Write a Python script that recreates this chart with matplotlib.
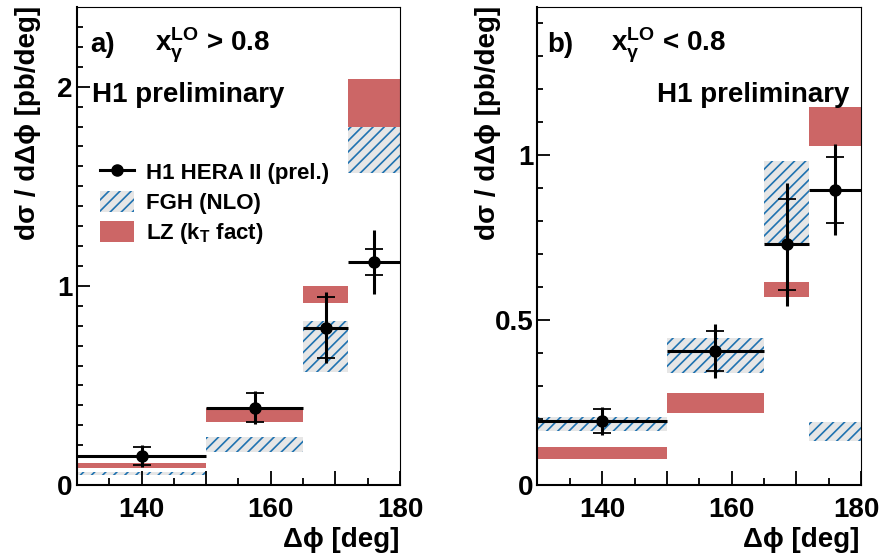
import matplotlib
matplotlib.use('Agg')
import matplotlib.pyplot as plt
import matplotlib.transforms as mtransforms
from matplotlib.patches import Patch
from matplotlib.lines import Line2D

plt.rcParams['font.family'] = ['Liberation Sans', 'DejaVu Sans']
plt.rcParams['font.weight'] = 'bold'
plt.rcParams['mathtext.fontset'] = 'custom'
plt.rcParams['mathtext.rm'] = 'Liberation Sans:bold'
plt.rcParams['mathtext.it'] = 'Liberation Sans:bold'
plt.rcParams['mathtext.bf'] = 'Liberation Sans:bold'
plt.rcParams['hatch.linewidth'] = 1.2

# Bins in delta phi
bordes = [130, 150, 165, 172, 180]

# Panel a) x_gamma > 0.8
a_datos = [0.146, 0.389, 0.79, 1.119]
a_stat = [0.047, 0.073, 0.153, 0.065]
a_total = [0.057, 0.082, 0.178, 0.16]
a_fgh_bajo = [0.050, 0.167, 0.569, 1.566]
a_fgh_alto = [0.067, 0.243, 0.824, 1.800]
a_lz_bajo = [0.087, 0.318, 0.916, 1.800]
a_lz_alto = [0.112, 0.389, 1.000, 2.040]

# Panel b) x_gamma < 0.8
b_datos = [0.194, 0.406, 0.729, 0.894]
b_stat = [0.035, 0.060, 0.138, 0.100]
b_total = [0.043, 0.081, 0.186, 0.138]
b_fgh_bajo = [0.164, 0.338, 0.729, 0.134]
b_fgh_alto = [0.207, 0.445, 0.982, 0.192]
b_lz_bajo = [0.080, 0.217, 0.569, 1.028]
b_lz_alto = [0.116, 0.278, 0.614, 1.145]

ROJO = '#cc6666'
AZUL = '#1f72b0'
GRIS = '#e6e6e6'
TAM = 20


def dibujar_panel(ax, datos, stat, total, fgh_bajo, fgh_alto, lz_bajo, lz_alto, ymax):
    izq = bordes[:-1]
    anchos = [bordes[i+1] - bordes[i] for i in range(len(izq))]
    centros = [izq[i] + anchos[i] / 2 for i in range(len(izq))]

    #Cajas de las predicciones
    ax.bar(izq, [fgh_alto[i] - fgh_bajo[i] for i in range(4)], bottom=fgh_bajo,
           width=anchos, align='edge', facecolor=GRIS, edgecolor=AZUL, hatch='///',
           linewidth=0, zorder=1)
    ax.bar(izq, [lz_alto[i] - lz_bajo[i] for i in range(4)], bottom=lz_bajo,
           width=anchos, align='edge', color=ROJO, linewidth=0, zorder=2)

    #Datos con error total y marcas del error estadistico
    ax.errorbar(centros, datos, xerr=[a / 2 for a in anchos], yerr=total, fmt='o',
                color='black', markersize=8, elinewidth=2.2, capsize=0, zorder=4)
    ax.errorbar(centros, datos, yerr=stat, fmt='none', ecolor='black',
                elinewidth=0, capsize=6.5, capthick=1.3, zorder=4)

    ax.set_xlim(130, 180)
    ax.set_ylim(0, ymax)
    ax.set_xticks([140, 150, 160, 170, 180])
    ax.set_xticklabels(['140', '', '160', '', '180'])
    ax.set_xticks([135, 145, 155, 165, 175], minor=True)
    ax.tick_params(axis='both', which='both', direction='in', top=False, right=False)
    ax.tick_params(axis='x', which='major', length=10, width=1.3, labelsize=TAM, pad=9)
    ax.tick_params(axis='x', which='minor', length=5, width=1.3)
    ax.tick_params(axis='y', which='major', length=9, width=1.3, labelsize=TAM, pad=3)
    ax.tick_params(axis='y', which='minor', length=4.5, width=1.3)
    for lado in ['left', 'bottom']:
        ax.spines[lado].set_linewidth(1.5)
    for lado in ['top', 'right']:
        ax.spines[lado].set_linewidth(0.8)


fig = plt.figure(figsize=(8.82, 5.56), dpi=100)
ax1 = fig.add_axes([0.0873, 0.1277, 0.3662, 0.8597])
ax2 = fig.add_axes([0.6094, 0.1277, 0.3668, 0.8597])

dibujar_panel(ax1, a_datos, a_stat, a_total, a_fgh_bajo, a_fgh_alto, a_lz_bajo, a_lz_alto, 2.4)
dibujar_panel(ax2, b_datos, b_stat, b_total, b_fgh_bajo, b_fgh_alto, b_lz_bajo, b_lz_alto, 1.448)

ax1.set_yticks([0, 1, 2])
ax1.set_yticklabels(['0', '1', '2'])
ax1.set_yticks([i / 10 for i in range(24) if i % 10 != 0], minor=True)
ax2.set_yticks([0, 0.5, 1])
ax2.set_yticklabels(['0', '0.5', '1'])
ax2.set_yticks([i / 10 for i in range(15) if i % 5 != 0], minor=True)
for ax in [ax1, ax2]:
    for t in ax.get_xticklabels() + ax.get_yticklabels():
        t.set_fontweight('bold')

#El 180 del panel derecho queda pegado al borde, lo recorremos un poco
ultima = ax2.get_xticklabels()[-1]
ultima.set_transform(ultima.get_transform() +
                     mtransforms.ScaledTranslation(-5 / 100, 0, fig.dpi_scale_trans))

#Textos de cada panel
ax1.text(0.04, 0.92, 'a)', transform=ax1.transAxes, fontsize=TAM, va='center')
ax1.text(0.24, 0.92, r'x$_{\gamma}^{\mathrm{LO}}$ > 0.8', transform=ax1.transAxes,
         fontsize=TAM, va='center')
ax1.text(0.045, 0.815, 'H1 preliminary', transform=ax1.transAxes, fontsize=TAM, va='center')

ax2.text(0.03, 0.92, 'b)', transform=ax2.transAxes, fontsize=TAM, va='center')
ax2.text(0.227, 0.92, r'x$_{\gamma}^{\mathrm{LO}}$ < 0.8', transform=ax2.transAxes,
         fontsize=TAM, va='center')
ax2.text(0.963, 0.815, 'H1 preliminary', transform=ax2.transAxes, fontsize=TAM,
         va='center', ha='right')

#Leyenda
manejadores = [
    Line2D([], [], color='black', marker='o', markersize=8, linewidth=2.2),
    Patch(facecolor=GRIS, edgecolor=AZUL, hatch='///', linewidth=0),
    Patch(facecolor=ROJO, linewidth=0),
]
etiquetas = ['H1 HERA II (prel.)', 'FGH (NLO)', r'LZ (k$_{\mathrm{T}}$ fact)']
ax1.legend(manejadores, etiquetas, loc='upper left', bbox_to_anchor=(0.07, 0.678),
           frameon=False, fontsize=16, handlelength=1.55, handleheight=1.1,
           labelspacing=0.3, handletextpad=0.55, borderaxespad=0, borderpad=0)

#Titulos de los ejes
fig.text(28 / 882, 1 - 6 / 556, 'dσ / dΔϕ [pb/deg]', rotation=90, ha='center', va='top', fontsize=TAM)
fig.text(488 / 882, 1 - 6 / 556, 'dσ / dΔϕ [pb/deg]', rotation=90, ha='center', va='top', fontsize=TAM)
fig.text(399 / 882, 1 - 540 / 556, 'Δϕ [deg]', ha='right', va='center', fontsize=TAM)
fig.text(859 / 882, 1 - 540 / 556, 'Δϕ [deg]', ha='right', va='center', fontsize=TAM)

plt.savefig('out.png', dpi=100)
